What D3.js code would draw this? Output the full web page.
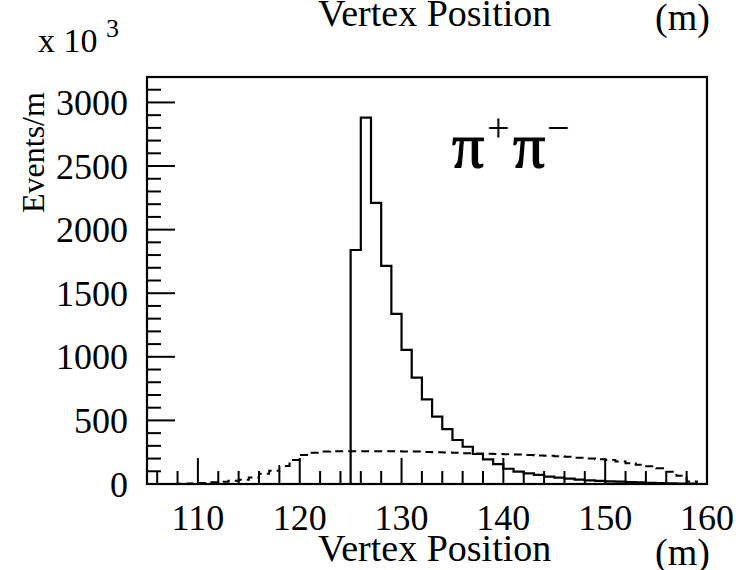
<!DOCTYPE html>
<html><head><meta charset="utf-8">
<script src="https://cdn.jsdelivr.net/npm/d3@7"></script>
<style>
body{margin:0;background:#fff}
svg{display:block}
text{font-family:"Liberation Serif","Times New Roman",serif;fill:#000}
</style>
</head><body>
<svg id="c" width="739" height="570"></svg>
<script>
// bin low edges (1 m bins from 105 to 160)
const binEdges = d3.range(105, 160, 1);
// pi+ pi- signal histogram (solid), events/m in units of 10^3
const signal = [0,0,0,0,0,0,0,0,0,0, 0,0,0,0,0,0,0,0,0,0,
  1840,2880,2210,1715,1337,1054,836,666,530,432,
  346,293,236,194,157,120,97,84,71,58,
  50,42,34,29,25,21,18,15,12,10,
  8,6,4,3,0];
// broad background distribution (dashed)
const background = [0,0,0,2,4,8,
  13,18,25,33,52,80,105,142,189,228,
  246,255,258,258,258,258,258,258,257,256,
  255,252,250,248,246,242,240,238,236,234,
  232,228,225,222,218,214,206,200,194,188,
  176,164,152,140,123,97,65,20,0];
const xTicks = [110,120,130,140,150,160];
const yTicks = [0,500,1000,1500,2000,2500,3000];

const svg = d3.select("#c");
const X0 = 147, X1 = 707, Y0 = 77, Y1 = 484;
const x = d3.scaleLinear().domain([105,160]).range([X0,X1]);
const y = d3.scaleLinear().domain([0,3200]).range([Y1,Y0]);

function stepPoints(vals){
  const pts = binEdges.map((e,i)=>[e, vals[i]]);
  pts.push([160, vals[vals.length-1]]);
  return pts;
}
const line = d3.line().x(d=>x(d[0])).y(d=>y(d[1])).curve(d3.curveStepAfter);

// histograms
svg.append("path").attr("d", line(stepPoints(background)))
  .attr("fill","none").attr("stroke","#000").attr("stroke-width",2)
  .attr("stroke-dasharray","8,5");
svg.append("path").attr("d", line(stepPoints(signal)))
  .attr("fill","none").attr("stroke","#000").attr("stroke-width",2.2);

// ticks
const g = svg.append("g").attr("stroke","#000").attr("stroke-width",2);
d3.range(0, 3201, 100).forEach(v=>{
  const major = v % 500 === 0;
  g.append("line").attr("x1",X0).attr("x2",X0 + (major?28:14))
    .attr("y1",y(v)).attr("y2",y(v));
});
d3.range(106, 160, 2).forEach(v=>{
  const major = v % 10 === 0;
  g.append("line").attr("x1",x(v)).attr("x2",x(v))
    .attr("y1",Y1).attr("y2",Y1 - (major?26:13));
});
// frame
svg.append("rect").attr("x",X0).attr("y",Y0).attr("width",X1-X0).attr("height",Y1-Y0)
  .attr("fill","none").attr("stroke","#000").attr("stroke-width",2.2);

// tick labels
svg.selectAll(".yl").data(yTicks).join("text")
  .attr("x",128).attr("y",d=>y(d)).attr("dy","0.35em")
  .attr("text-anchor","end").attr("font-size",36).text(d=>d);
svg.selectAll(".xl").data(xTicks).join("text")
  .attr("x",d=>x(d)).attr("y",530)
  .attr("text-anchor","middle").attr("font-size",36).text(d=>d);

// titles
svg.append("text").attr("x",318).attr("y",561).attr("font-size",38).text("Vertex Position");
svg.append("text").attr("x",655).attr("y",565).attr("font-size",38).text("(m)");
svg.append("text").attr("x",318).attr("y",26).attr("font-size",38).text("Vertex Position");
svg.append("text").attr("x",655).attr("y",30).attr("font-size",38).text("(m)");
const t10 = svg.append("text").attr("x",38).attr("y",52).attr("font-size",34);
t10.append("tspan").text("x 10 ");
t10.append("tspan").attr("dy",-15).attr("font-size",26).text("3");
svg.append("text").attr("transform","translate(44,213) rotate(-90)")
  .attr("font-size",32).text("Events/m");
// pi+ pi- label
const symFont = "'DejaVu Sans',sans-serif";
const piStyle = s => s.attr("font-size",64).attr("stroke","#000").attr("stroke-width",1.2);
svg.append("text").attr("x",452).attr("y",167).call(piStyle).text("π");
svg.append("text").attr("x",487).attr("y",141).attr("font-size",40).attr("font-family",symFont).text("+");
svg.append("text").attr("x",513).attr("y",167).call(piStyle).text("π");
svg.append("text").attr("x",547).attr("y",141).attr("font-size",40).attr("font-family",symFont).text("−");
</script>
</body></html>
